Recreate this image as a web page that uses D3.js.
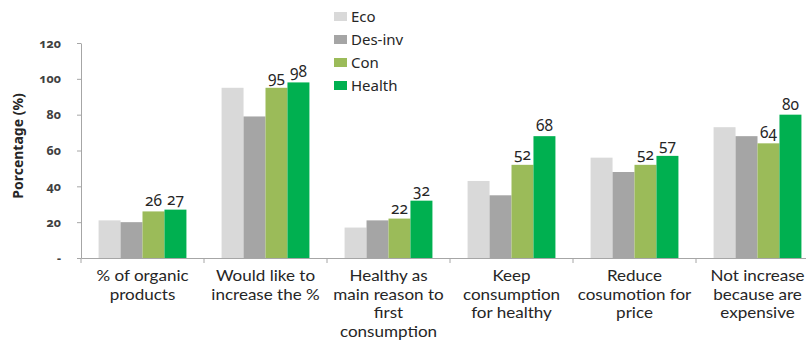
<!DOCTYPE html>
<html lang="en">
<head>
<meta charset="utf-8">
<style>
  body { margin: 0; background: #fff; }
  text { font-family: "Noto Sans", "Open Sans", sans-serif; fill: #262626; }
  .num { font-variant-numeric: oldstyle-nums; }
  .cat { font-family: Lato, "Noto Sans", sans-serif; }
</style>
</head>
<body>
<div id="chart"></div>
<script src="https://d3js.org/d3.v7.min.js"></script>
<script>
// categories (line breaks as in the original)
var categories = [
  "% of organic\nproducts",
  "Would like to\nincrease the %",
  "Healthy as\nmain reason to\nfirst\nconsumption",
  "Keep\nconsumption\nfor healthy",
  "Reduce\ncosumotion for\nprice",
  "Not increase\nbecause are\nexpensive"
];
var seriesNames = ["Eco", "Des-inv", "Con", "Health"];
var eco    = [21, 95, 17, 43, 56, 73];
var desInv = [20, 79, 21, 35, 48, 68];
var con    = [26, 95, 22, 52, 52, 64];
var health = [27, 98, 32, 68, 57, 80];
var labelled = ["Con", "Health"];   // only these series carry data labels
var yTicks = [0, 20, 40, 60, 80, 100, 120];

var colors = { "Eco": "#d9d9d9", "Des-inv": "#a5a5a5", "Con": "#9bbb59", "Health": "#00b050" };

var seriesValues = { "Eco": eco, "Des-inv": desInv, "Con": con, "Health": health };

var width = 806, height = 340;
var svg = d3.select("#chart").append("svg")
  .attr("width", width).attr("height", height);

var x0 = d3.scaleBand().domain(categories).range([81, 819]).paddingInner(0).paddingOuter(0);
var x1 = d3.scaleBand().domain(seriesNames).range([0, x0.bandwidth()]).paddingInner(0).paddingOuter(0.8);
var y = d3.scaleLinear().domain([0, 120]).range([258, 43]);

// y axis
var yAxis = svg.append("g")
  .attr("transform", "translate(81,0)")
  .call(d3.axisLeft(y).tickValues(yTicks).tickSize(4).tickSizeOuter(0)
    .tickFormat(function (d) { return d === 0 ? "-" : d; }));
yAxis.select(".domain").attr("stroke", "#a6a6a6");
yAxis.selectAll(".tick line").attr("stroke", "#a6a6a6");
yAxis.selectAll(".tick text")
  .attr("class", "num")
  .attr("x", -20)
  .style("font-size", "12.5px")
  .style("font-weight", "bold")
  .style("fill", "#404040");

// y title
svg.append("text")
  .attr("transform", "translate(23,146) rotate(-90)")
  .attr("text-anchor", "middle")
  .style("font-size", "14px")
  .style("font-weight", "bold")
  .text("Porcentage (%)");

// bars
var groups = svg.selectAll(".grp")
  .data(categories)
  .enter().append("g")
  .attr("transform", function (d) { return "translate(" + x0(d) + ",0)"; });

groups.selectAll("rect")
  .data(function (d, i) { return seriesNames.map(function (s) { return { s: s, v: seriesValues[s][i] }; }); })
  .enter().append("rect")
  .attr("x", function (d) { return x1(d.s); })
  .attr("width", x1.bandwidth())
  .attr("y", function (d) { return y(d.v); })
  .attr("height", function (d) { return y(0) - y(d.v); })
  .attr("fill", function (d) { return colors[d.s]; });

groups.selectAll(".lbl")
  .data(function (d, i) {
    return labelled.map(function (s) { return { s: s, v: seriesValues[s][i] }; });
  })
  .enter().append("text")
  .attr("class", "num")
  .attr("x", function (d) { return x1(d.s) + x1.bandwidth() / 2; })
  .attr("y", function (d) { return y(d.v) - 5; })
  .attr("text-anchor", "middle")
  .style("font-size", "15.5px")
  .text(function (d) { return d.v; });

// x axis
var xAxis = svg.append("g")
  .attr("transform", "translate(0,258)")
  .call(d3.axisBottom(x0).tickSize(0).tickSizeOuter(0).tickFormat(""));
xAxis.select(".domain").attr("stroke", "#a6a6a6");
var bounds = categories.map(function (c) { return x0(c); }).concat([x0.range()[1]]);
svg.selectAll(".xtick")
  .data(bounds)
  .enter().append("line")
  .attr("x1", function (d) { return d; }).attr("x2", function (d) { return d; })
  .attr("y1", y(0)).attr("y2", y(0) + 5)
  .attr("stroke", "#a6a6a6");

// category labels (source text is wider than the available fonts, so stretch it)
var catText = svg.selectAll(".catg")
  .data(categories)
  .enter().append("g")
  .attr("transform", function (d) {
    return "translate(" + (x0(d) + x0.bandwidth() / 2) + "," + (y(0) + 23) + ") scale(1.1,1)";
  })
  .append("text")
  .attr("class", "cat")
  .attr("text-anchor", "middle")
  .style("font-size", "15.5px");
catText.selectAll("tspan")
  .data(function (d) { return d.split("\n"); })
  .enter().append("tspan")
  .attr("x", 0)
  .attr("dy", function (d, i) { return i === 0 ? 0 : 18.6; })
  .text(function (d) { return d; });

// legend
var legend = svg.selectAll(".leg")
  .data(seriesNames)
  .enter().append("g")
  .attr("transform", function (d, i) { return "translate(334," + (12 + i * 23) + ")"; });
legend.append("rect")
  .attr("width", 13).attr("height", 9)
  .attr("fill", function (d) { return colors[d]; });
legend.append("text")
  .attr("x", 17).attr("y", 10)
  .style("font-size", "15px")
  .text(function (d) { return d; });
</script>
</body>
</html>
